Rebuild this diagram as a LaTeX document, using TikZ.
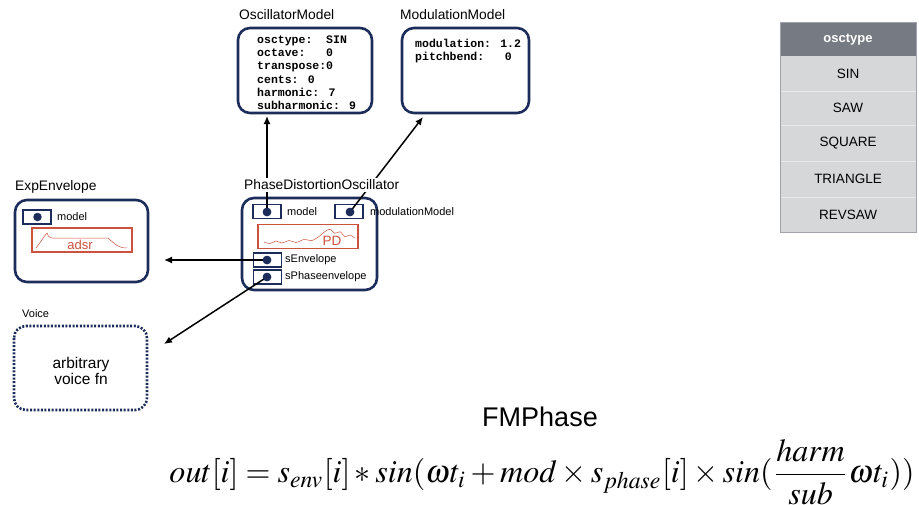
\documentclass[tikz,border=0pt]{standalone}
\usepackage{graphicx}
\usepackage{mathptmx}
\usepackage[no-math]{fontspec}
\setmainfont{Liberation Sans}
\newfontfamily\codefont{Liberation Mono}
\usetikzlibrary{arrows.meta}

\definecolor{navy}{RGB}{28,45,92}
\definecolor{pdred}{RGB}{204,82,62}
\definecolor{headgrey}{RGB}{118,122,130}
\definecolor{rowgrey}{RGB}{214,215,217}
\definecolor{sepgrey}{RGB}{232,233,234}
\definecolor{edgegrey}{RGB}{160,163,168}

\newcommand\pxfont[1]{\fontsize{#1}{#1}\selectfont}

\tikzset{
  objbox/.style={draw=navy, line width=2.6pt, rounded corners=12pt},
  voicebox/.style={draw=navy, line width=2.6pt, rounded corners=12pt,
    dash pattern=on 2pt off 1.6pt},
  port/.style={draw=navy, line width=1.4pt, minimum width=28pt,
    minimum height=14pt, inner sep=0pt},
  portdot/.style={circle, fill=navy, minimum size=8.5pt, inner sep=0pt},
  portlabel/.style={anchor=west, inner sep=0pt, font=\pxfont{11}},
  title/.style={anchor=west, inner sep=0pt, font=\pxfont{13.8}},
  fnbox/.style={draw=pdred, line width=1.3pt, minimum width=100pt,
    minimum height=24pt, inner sep=0pt},
  code/.style={anchor=north west, inner sep=0pt, align=left,
    font=\codefont\bfseries\fontsize{11.5}{13.3}\selectfont},
  link/.style={line width=1.5pt, -{Latex[length=8pt,width=7pt]}},
  cell/.style={minimum width=136pt, minimum height=35pt, inner sep=0pt,
    fill=rowgrey, font=\pxfont{13.5}},
}

\begin{document}
\begin{tikzpicture}[x=1pt, y=-1pt]
\useasboundingbox (0,0) rectangle (919,504);

% ---------- OscillatorModel ----------
\node[title] (oscm-title) at (239,15) {OscillatorModel};
\draw[objbox] (238,28) rectangle (372,113);
\coordinate (oscm-in) at (267,116);
\node[code] (oscm-fields) at (257,35.5) {osctype:\ \ SIN\\octave:\ \ \ 0\\transpose:0\\cents: 0\\harmonic: 7\\subharmonic: 9};

% ---------- ModulationModel ----------
\node[title] (modm-title) at (400,15) {ModulationModel};
\draw[objbox] (402,28) rectangle (529,113);
\coordinate (modm-in) at (423,117);
\node[code] (modm-fields) at (415,38.5) {modulation: 1.2\\pitchbend:\ \ \ 0};

% ---------- PhaseDistortionOscillator ----------
\draw[objbox] (242,198) rectangle (377,290);
\node[port] (pdo-model-port) at (267,211.5) {};
\node[port] (pdo-mod-port) at (349,211.5) {};
\node[port] (pdo-env-port) at (267.5,260) {};
\node[port] (pdo-phase-port) at (267.5,277) {};
\node[portdot] (pdo-model) at (267,212) {};
\node[portdot] (pdo-mod) at (350,212) {};
\node[portdot] (pdo-env) at (267,260) {};
\node[portdot] (pdo-phase) at (267,277) {};
\node[portlabel] (pdo-model-lbl) at (287,212) {model};
\node[portlabel] (pdo-mod-lbl) at (370,212) {modulationModel};
\node[portlabel] (pdo-env-lbl) at (285,260) {sEnvelope};
\node[portlabel] (pdo-phase-lbl) at (285,277) {sPhaseenvelope};

\node[fnbox] (pd) at (308,236.5) {};
\draw[pdred, line width=0.5pt] plot[smooth] coordinates {
  (264,242) (270,243.5) (276,241) (282,243) (289,240.5) (296,242.5)
  (304,239.5) (312,240.5) (319,236.5) (325,231.5) (330,229.3)
  (335,233.3) (340,231.7) (345,236.7) (350,235) (355,238.3)};
\node[inner sep=0pt, text=pdred, font=\pxfont{13.5}] (pd-lbl) at (332,241) {PD};

% ---------- ExpEnvelope ----------
\node[title] (env-title) at (15,187) {ExpEnvelope};
\draw[objbox] (15,200) rectangle (148,282);
\node[port] (env-model-port) at (37,217) {};
\node[portdot] (env-model) at (37.5,217) {};
\node[portlabel] (env-model-lbl) at (57,217) {model};
\node[fnbox] (adsr) at (82,240) {};
\draw[pdred, line width=0.5pt] (36,248) .. controls (41,242) and (44,236) .. (47,233)
  .. controls (48,236) and (49,238) .. (52,238) -- (108,238)
  .. controls (113,242) and (117,248) .. (127,248);
\node[inner sep=0pt, text=pdred, font=\pxfont{13}] (adsr-lbl) at (80,245) {adsr};
\coordinate (env-in) at (164,260);

% ---------- Voice ----------
\node[anchor=west, inner sep=0pt, font=\pxfont{11}] (voice-title) at (22,314) {Voice};
\draw[voicebox] (14,326) rectangle (147,410);
\node[align=center, inner sep=0pt, font=\pxfont{15.5}] (voice-fn) at (81,371)
  {arbitrary\\[1pt]voice fn};
\coordinate (voice-in) at (164,344);

% ---------- connectors ----------
\draw[link] (pdo-model.center) -- (oscm-in);
\draw[link] (pdo-mod.center) -- (modm-in);
\draw[link] (pdo-env.center) -- (env-in);
\draw[link] (pdo-phase.center) -- (voice-in);
\node[portdot] at (pdo-model) {};
\node[portdot] at (pdo-mod) {};
\node[portdot] at (pdo-env) {};
\node[portdot] at (pdo-phase) {};

\node[title, fill=white, inner ysep=2pt, inner xsep=0pt] (pdo-title) at (244,185)
  {PhaseDistortionOscillator};

% ---------- osctype table ----------
\node[cell, fill=headgrey, minimum height=34pt, text=white,
  font=\pxfont{13}\bfseries] (t-head) at (848,39.5) {osctype};
\node[cell] (t-sin) at (848,73.5) {SIN};
\node[cell] (t-saw) at (848,108) {SAW};
\node[cell] (t-square) at (848,143) {SQUARE};
\node[cell] (t-triangle) at (848,179) {TRIANGLE};
\node[cell, minimum height=35pt] (t-revsaw) at (848,214.5) {REVSAW};
\foreach \yy in {91,125.5,161,197}
  \draw[sepgrey, line width=0.8pt] (780,\yy) -- (916,\yy);
\draw[edgegrey, line width=0.8pt] (780,22) rectangle (916,232);

% ---------- formula ----------
\node[inner sep=0pt, font=\pxfont{27}] (fm-title) at (540,417) {FMPhase};
\node[inner sep=0pt] (fm-eq) at (542,472)
  {\resizebox{745pt}{!}{$\displaystyle out[i] = s_{env}[i] * sin(\omega t_i + mod \times s_{phase}[i] \times sin(\frac{harm}{sub}\omega t_i))$}};
\end{tikzpicture}
\end{document}
